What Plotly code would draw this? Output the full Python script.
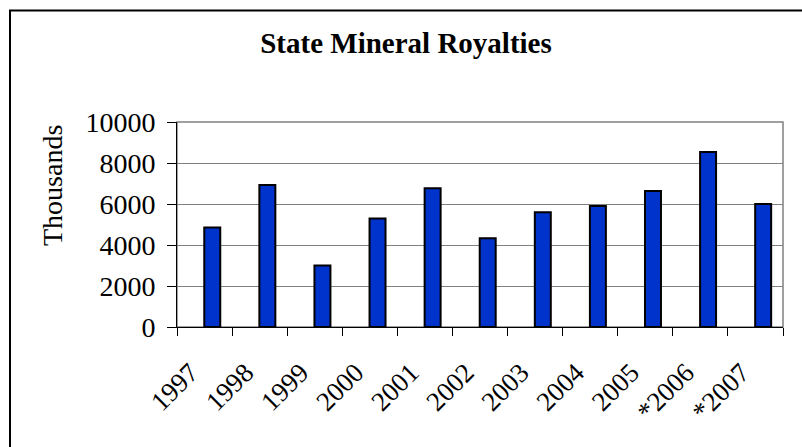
import plotly.graph_objects as go

years = ["1997", "1998", "1999", "2000", "2001", "2002", "2003", "2004", "2005", "*2006", "*2007"]
royalties = [4850, 6930, 3000, 5290, 6770, 4330, 5600, 5900, 6630, 8540, 6000]

title_text = "State Mineral Royalties"
y_title = "Thousands"
y_ticks = [0, 2000, 4000, 6000, 8000, 10000]

W, H = 802, 447
L, R, T, B = 177, 19, 122, 120
pw, ph = W - L - R, H - T - B

def px_x(x):
    return (x - L) / pw

def px_y(y):
    return (H - B - y) / ph

FONT = "Liberation Serif, Times New Roman, serif"

fig = go.Figure()
fig.add_trace(go.Bar(
    x=years, y=royalties,
    marker=dict(color="#0033CC", line=dict(color="black", width=2)),
    width=0.29, offset=-0.005,
))

fig.update_layout(
    width=W, height=H,
    margin=dict(l=L, r=R, t=T, b=B),
    paper_bgcolor="white", plot_bgcolor="white",
    showlegend=False,
    font=dict(family=FONT, color="black", size=26),
    title=dict(text="<b>" + title_text + "</b>", x=406 / W, xanchor="center",
               y=1 - 43 / H, yanchor="middle",
               font=dict(family=FONT, size=29, color="black")),
)

fig.update_xaxes(
    type="category",
    showline=True, linecolor="black", linewidth=1,
    ticks="outside", tickson="boundaries", ticklen=8, tickcolor="black", tickwidth=1,
    tickangle=-45, tickfont=dict(family=FONT, size=27, color="black"),
    ticklabelshift=-14, ticklabelstandoff=18,
    showgrid=False, mirror=False,
)
fig.update_yaxes(
    range=[0, 10000], tickvals=y_ticks, ticktext=[str(v) for v in y_ticks],
    showline=True, linecolor="black", linewidth=1,
    ticks="outside", ticklen=9, tickcolor="black", tickwidth=1,
    tickfont=dict(family=FONT, size=28, color="black"),
    ticklabelstandoff=6,
    showgrid=True, gridcolor="#808080", gridwidth=1,
    zeroline=False,
)

# plot-area border (top/right, grey)
fig.add_shape(type="rect", xref="paper", yref="paper", x0=0, x1=1, y0=0, y1=1,
              line=dict(color="#808080", width=1.5), layer="below")
# chart-area border (black)
fig.add_shape(type="rect", xref="paper", yref="paper",
              x0=px_x(10), x1=px_x(820), y0=px_y(470), y1=px_y(10.5),
              line=dict(color="black", width=2))

fig.add_annotation(text=y_title, xref="paper", yref="paper",
                   x=px_x(52), y=px_y(186), textangle=-90, showarrow=False,
                   xanchor="center", yanchor="middle",
                   font=dict(family=FONT, size=28, color="black"))

fig.write_html("out.html")
